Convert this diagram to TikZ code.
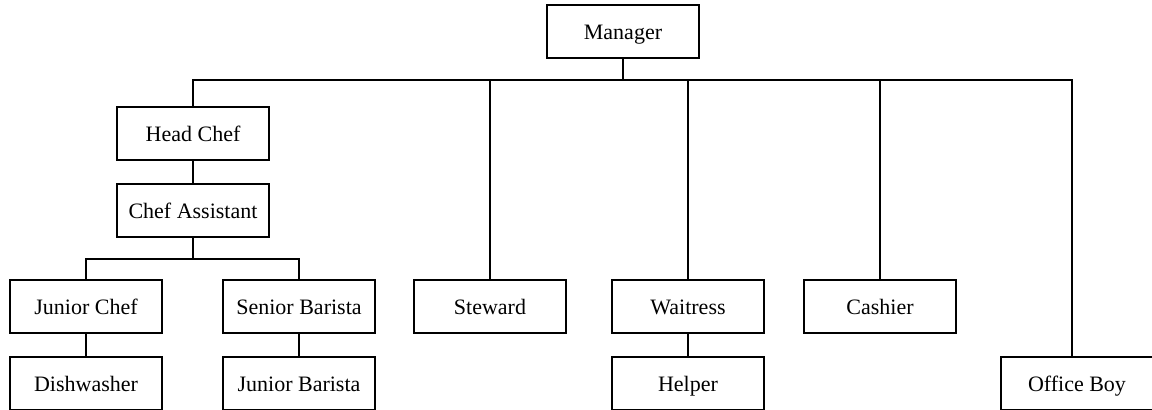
\documentclass[tikz,border=0pt]{standalone}
\usepackage{fontspec}
\setmainfont{Liberation Serif}
\usetikzlibrary{positioning}
\begin{document}
\begin{tikzpicture}[x=0.5pt, y=-0.5pt, line width=1pt]

    \useasboundingbox (0,0) rectangle (1152,409);

    % Estilo para los puestos
    \tikzstyle{puesto}=[rectangle, draw, line width=1pt, minimum width=76pt, minimum height=26.5pt, inner sep=1pt, text height=2ex, text depth=0.25ex, font=\fontsize{11}{13}\selectfont]

    % Definición de los puestos (nodos)
    \node[puesto] (manager) at (623,31.5) {Manager};
    \node[puesto] (headchef) at (193,133.5) {Head Chef};
    \node[puesto] (chefassistant) at (193,210.5) {Chef Assistant};
    \node[puesto] (juniorchef) at (86,306.5) {Junior Chef};
    \node[puesto] (seniorbarista) at (299,306.5) {Senior Barista};
    \node[puesto] (dishwasher) at (86,383) {Dishwasher};
    \node[puesto] (juniorbarista) at (299,383) {Junior Barista};
    \node[puesto] (steward) at (490,306.5) {Steward};
    \node[puesto] (waitress) at (688,306.5) {Waitress};
    \node[puesto] (helper) at (688,383) {Helper};
    \node[puesto] (cashier) at (880,306.5) {Cashier};
    \node[puesto] (officeboy) at (1077,383) {Office Boy};

    % Puntos de las barras horizontales
    \coordinate (busR) at (1072,80);
    \coordinate (subL) at (86,259);
    \coordinate (subR) at (299,259);

    % Definición de las líneas
    \draw (headchef.north) |- (busR) -- (officeboy.north -| busR);
    \draw (manager.south) -- (manager.south |- busR);
    \draw (steward.north) -- (steward.north |- busR);
    \draw (waitress.north) -- (waitress.north |- busR);
    \draw (cashier.north) -- (cashier.north |- busR);
    \draw (headchef) -- (chefassistant);
    \draw (chefassistant.south) -- (chefassistant.south |- subL);
    \draw (juniorchef.north) |- (subR) -- (seniorbarista.north);
    \path[-]
        (juniorchef) edge (dishwasher)
        (seniorbarista) edge (juniorbarista)
        (waitress) edge (helper);
\end{tikzpicture}
\end{document}
